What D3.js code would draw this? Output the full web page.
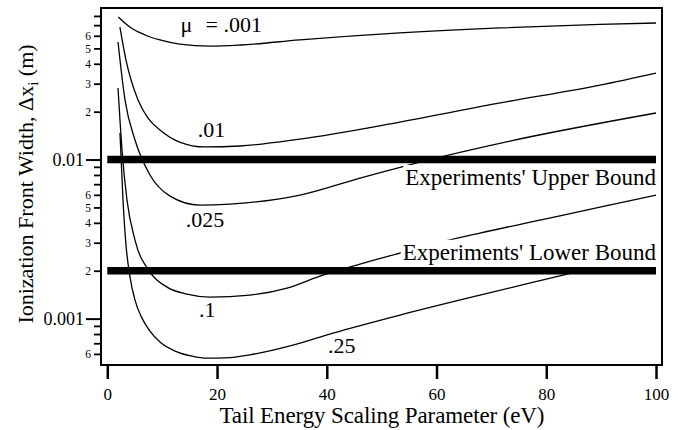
<!DOCTYPE html>
<html>
<head>
<meta charset="utf-8">
<script src="https://cdn.jsdelivr.net/npm/d3@7"></script>
<style>
  body { margin: 0; background: #fff; }
  svg { display: block; }
  text { font-family: "Liberation Serif", "Times New Roman", "DejaVu Serif", serif; fill: #000; }
</style>
</head>
<body>
<script>
// Tail energy scaling parameter (eV) and ionization front width (m) for each mobility ratio
const eV_mu001 = [2, 4.1, 6.9, 9.6, 13.2, 18.7, 24.2, 35.1, 53.3, 71.6, 89.8, 100];
const dx_mu001 = [0.0787, 0.0681, 0.0607, 0.0565, 0.0532, 0.0517, 0.0525, 0.0565, 0.0625, 0.0672, 0.0707, 0.0722];

const eV_mu01 = [2.3, 3.4, 5.6, 7.42, 9.6, 13.2, 17.8, 24.2, 35.1, 53.3, 71.6, 89.8, 100];
const dx_mu01 = [0.0681, 0.0423, 0.0237, 0.01824, 0.01536, 0.01288, 0.0120, 0.01217, 0.01345, 0.0172, 0.0227, 0.0294, 0.0350];

const eV_mu025 = [1.95, 3.23, 5.05, 7.78, 11.43, 16.89, 22.36, 35.12, 46.05, 56.99, 73.39, 100];
const dx_mu025 = [0.05483, 0.02366, 0.01327, 0.00799, 0.005893, 0.005173, 0.005249, 0.005978, 0.007647, 0.009645, 0.01307, 0.01962];

const eV_mu1 = [1.95, 2.31, 2.68, 3.59, 5.05, 7.78, 10.88, 14.52, 18.72, 26.0, 32.75, 38.76, 46.05, 53.34, 59.36, 67.92, 78.86, 89.79, 100];
const dx_mu1 = [0.02817, 0.01772, 0.01147, 0.005564, 0.003118, 0.001962, 0.001578, 0.001426, 0.001365, 0.001405, 0.001555, 0.001851, 0.002203, 0.002582, 0.002941, 0.003449, 0.004163, 0.005027, 0.005978];

const eV_mu25 = [2.31, 2.86, 3.41, 4.14, 5.05, 6.32, 7.78, 9.6, 12.34, 15.44, 18.17, 22.36, 26.0, 33.84, 41.13, 53.34, 67.92, 83.04, 100];
const dx_mu25 = [0.01468, 0.005564, 0.002899, 0.001824, 0.001307, 0.001007, 0.000834, 0.000712, 0.000625, 0.000581, 0.000564, 0.000569, 0.000592, 0.000681, 0.000810, 0.001052, 0.001405, 0.001878, 0.002619];

// Curve labels and the (eV, width) where each label's left baseline sits
const curveLabels = ["= .001", ".01", ".025", ".1", ".25"];
const labelEV = [17.9, 16.5, 14.3, 16.7, 40.2];
const labelDX = [0.0632, 0.01387, 0.00376, 0.001022, 0.000607];

// Experimental bounds
const boundValues = [0.01, 0.002];
const boundLabels = ["Experiments' Upper Bound", "Experiments' Lower Bound"];

// Axis ticks
const xTicks = [0, 20, 40, 60, 80, 100];
const yMajorTicks = [0.001, 0.01];
const yMajorLabels = ["0.001", "0.01"];
const yMinorLabeled = [0.0006, 0.002, 0.003, 0.004, 0.005, 0.006, 0.02, 0.03, 0.04, 0.05, 0.06];
const yMinorPlain = [0.0007, 0.0008, 0.0009, 0.007, 0.008, 0.009, 0.07, 0.08];

const W = 681, H = 430;
const svg = d3.select("body").append("svg").attr("width", W).attr("height", H)
  .attr("font-family", "Liberation Serif, Times New Roman, serif");

const x = d3.scaleLinear().domain([0, 100]).range([107.3, 656]);
const y = d3.scaleLog().domain([0.000511, 0.0897]).range([365, 8]);

const plotLeft = 101, plotRight = 662, plotTop = 8, plotBottom = 365;

// Curves
const series = [
  [eV_mu001, dx_mu001], [eV_mu01, dx_mu01], [eV_mu025, dx_mu025],
  [eV_mu1, dx_mu1], [eV_mu25, dx_mu25]
];
const line = d3.line().x(d => x(d[0])).y(d => y(d[1])).curve(d3.curveMonotoneX);
svg.append("g").selectAll("path").data(series).join("path")
  .attr("d", s => line(d3.zip(s[0], s[1])))
  .attr("fill", "none").attr("stroke", "#000").attr("stroke-width", 1.3);

// Bound labels (white backing hides the curves behind the text)
const boundText = svg.append("g").selectAll("g").data(boundValues).join("g");
const bt = boundText.append("text")
  .attr("x", x(100))
  .attr("y", (d, i) => i === 0 ? y(d) + 25.5 : y(d) - 11)
  .attr("text-anchor", "end")
  .attr("font-size", 23)
  .text((d, i) => boundLabels[i]);
bt.each(function () {
  const b = this.getBBox();
  d3.select(this.parentNode).insert("rect", "text")
    .attr("x", b.x - 2).attr("y", b.y)
    .attr("width", b.width + 4).attr("height", b.height + 4)
    .attr("fill", "#fff");
});

// Thick bound bars
svg.append("g").selectAll("line").data(boundValues).join("line")
  .attr("x1", x(0)).attr("x2", x(100))
  .attr("y1", d => y(d)).attr("y2", d => y(d))
  .attr("stroke", "#000").attr("stroke-width", 7.5);

// Curve labels
svg.append("g").selectAll("text").data(curveLabels).join("text")
  .attr("x", (d, i) => x(labelEV[i]))
  .attr("y", (d, i) => y(labelDX[i]))
  .attr("font-size", 22)
  .text(d => d);
svg.append("text")
  .attr("x", x(labelEV[0]) - 25).attr("y", y(labelDX[0]))
  .attr("font-size", 22).text("μ");

// Frame
svg.append("rect")
  .attr("x", plotLeft).attr("y", plotTop)
  .attr("width", plotRight - plotLeft).attr("height", plotBottom - plotTop)
  .attr("fill", "none").attr("stroke", "#000").attr("stroke-width", 2);

// Y axis: decades, labeled minors, plain minors
function styleAxis(g, sw) {
  g.attr("font-family", null);
  g.select(".domain").remove();
  g.selectAll(".tick line").attr("stroke", "#000").attr("stroke-width", sw);
  g.selectAll(".tick text").attr("fill", "#000");
}
svg.append("g").attr("transform", `translate(${plotLeft},0)`)
  .call(d3.axisLeft(y).tickValues(yMajorTicks).tickSize(15).tickPadding(2)
    .tickFormat((d, i) => yMajorLabels[i]))
  .call(g => styleAxis(g, 2))
  .attr("font-size", 18);
svg.append("g").attr("transform", `translate(${plotLeft},0)`)
  .call(d3.axisLeft(y).tickValues(yMinorLabeled).tickSize(7).tickPadding(3)
    .tickFormat(d => String(Math.round(d / Math.pow(10, Math.floor(Math.log10(d) + 1e-9))))))
  .call(g => styleAxis(g, 1.8))
  .attr("font-size", 11.5);
svg.append("g").attr("transform", `translate(${plotLeft},0)`)
  .call(d3.axisLeft(y).tickValues(yMinorPlain).tickSize(7).tickFormat(""))
  .call(g => styleAxis(g, 1.8));

// X axis (offset below the frame)
svg.append("g").attr("transform", `translate(0,${plotBottom})`)
  .call(d3.axisBottom(x).tickValues(xTicks).tickSize(14).tickPadding(9))
  .call(g => styleAxis(g, 2.5))
  .attr("font-size", 17);

// Axis titles
svg.append("text")
  .attr("x", 382).attr("y", 423)
  .attr("text-anchor", "middle").attr("font-size", 23)
  .attr("textLength", 325).attr("lengthAdjust", "spacing")
  .text("Tail Energy Scaling Parameter (eV)");

const yt = svg.append("text")
  .attr("transform", "translate(33,184) rotate(-90)")
  .attr("text-anchor", "middle").attr("font-size", 22);
yt.append("tspan").text("Ionization Front Width, Δx");
yt.append("tspan").attr("font-size", 15).attr("dy", 5).text("i");
yt.append("tspan").attr("dy", -5).text(" (m)");
</script>
</body>
</html>
